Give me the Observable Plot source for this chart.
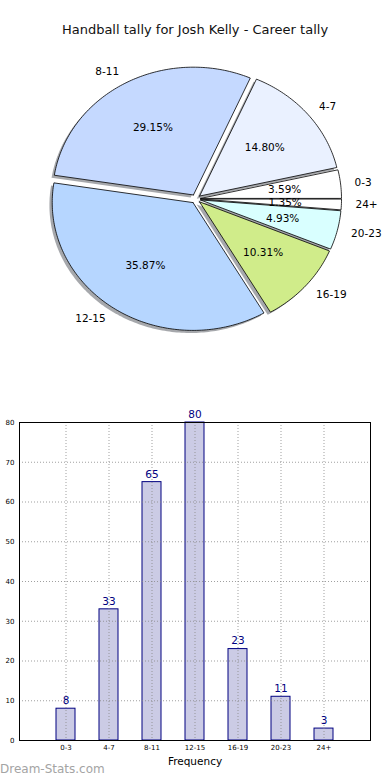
<!DOCTYPE html>
<html>
<head>
<meta charset="utf-8">
<script src="https://cdn.jsdelivr.net/npm/d3@7"></script>
<script src="https://cdn.jsdelivr.net/npm/@observablehq/plot@0.6"></script>
<style>
  html, body { margin: 0; padding: 0; background: #fff; }
  body { width: 390px; height: 780px; position: relative; overflow: hidden; font-family: "DejaVu Sans", sans-serif; }
  #title { height: 50px; box-sizing: border-box; padding-top: 22px; text-align: center; font-size: 13px; line-height: 16px; color: #111; }
  #pie, #bar { display: block; height: 330px; }
  #bar { height: 400px; }
  #wm { position: absolute; left: 0; top: 762px; font-size: 12px; line-height: 14px; color: #a4a4a4; }
</style>
</head>
<body>
<div id="title">Handball tally for Josh Kelly - Career tally</div>
<div id="pie"></div>
<div id="bar"></div>
<div id="wm">Dream-Stats.com</div>
<script>
// ---- data ----
const categories = ["0-3", "4-7", "8-11", "12-15", "16-19", "20-23", "24+"];
const tallies = [8, 33, 65, 80, 23, 11, 3];
const yTicks = [0, 10, 20, 30, 40, 50, 60, 70, 80];
// ---- palette ----
const sliceColors = ["#ffffff", "#eaf1ff", "#c5d9ff", "#b6d6ff", "#d0ec8a", "#d9ffff", "#ffffff"];

const font = "DejaVu Sans";
const total = d3.sum(tallies);
const explode = 0.035;

// build wedge outlines (data units, radius 1)
const wedgePts = [];
const labelPts = [];
let acc = 0;
categories.forEach((c, i) => {
  const a0 = acc / total * 2 * Math.PI;
  acc += tallies[i];
  const a1 = acc / total * 2 * Math.PI;
  const mid = (a0 + a1) / 2;
  const ox = explode * Math.cos(mid), oy = explode * Math.sin(mid);
  wedgePts.push({cat: c, x: ox, y: oy});
  const n = Math.max(4, Math.ceil((a1 - a0) / (Math.PI / 180)));
  for (let k = 0; k <= n; k++) {
    const t = a0 + (a1 - a0) * k / n;
    wedgePts.push({cat: c, x: ox + Math.cos(t), y: oy + Math.sin(t)});
  }
  wedgePts.push({cat: c, x: ox, y: oy});
  labelPts.push({
    cat: c,
    lx: (explode + 1.1) * Math.cos(mid), ly: (explode + 1.1) * Math.sin(mid),
    px: (explode + 0.6) * Math.cos(mid), py: (explode + 0.6) * Math.sin(mid),
    pct: (tallies[i] / total * 100).toFixed(2) + "%"
  });
});

const pie = Plot.plot({
  width: 390, height: 330, margin: 0,
  style: {fontFamily: font, fontSize: "10px", background: "transparent", overflow: "visible"},
  x: {domain: [-1, 1], range: [54.5, 336.1], axis: null},
  y: {domain: [-1, 1], range: [276.2, 20.6], axis: null},
  color: {domain: categories, range: sliceColors},
  marks: [
    Plot.line(wedgePts, {x: "x", y: "y", z: "cat", fill: "#4d5259", fillOpacity: 0.5, stroke: "none", dx: -2.8, dy: 2.6}),
    Plot.line(wedgePts, {x: "x", y: "y", z: "cat", fill: "cat", stroke: "#000", strokeWidth: 0.8, strokeOpacity: 1}),
    Plot.text(labelPts.filter(d => d.lx >= 0), {x: "lx", y: "ly", text: "cat", textAnchor: "start", fontSize: 10.5, fill: "#000"}),
    Plot.text(labelPts.filter(d => d.lx < 0), {x: "lx", y: "ly", text: "cat", textAnchor: "end", fontSize: 10.5, fill: "#000"}),
    Plot.text(labelPts, {x: "px", y: "py", text: "pct", fontSize: 10.5, fill: "#000"})
  ]
});
document.getElementById("pie").appendChild(pie);

const bars = categories.map((c, i) => ({cat: c, v: tallies[i]}));
const bar = Plot.plot({
  width: 390, height: 400,
  marginTop: 42, marginBottom: 40, marginLeft: 19, marginRight: 20,
  style: {fontFamily: font, background: "transparent", overflow: "visible"},
  x: {type: "band", domain: categories, paddingInner: 0.55, paddingOuter: 0.775, align: 0.5, label: null},
  y: {domain: [0, 80], label: null},
  marks: [
    Plot.barY(bars, {x: "cat", y: "v", fill: "#cbcbe5", stroke: "#000080", strokeWidth: 1, insetLeft: 0, insetRight: 0}),
    Plot.gridX({stroke: "#888", strokeOpacity: 0.8, strokeDasharray: "1,2"}),
    Plot.gridY(yTicks, {stroke: "#888", strokeOpacity: 0.8, strokeDasharray: "1,2"}),
    Plot.frame({stroke: "#000", strokeWidth: 1}),
    Plot.axisY(yTicks, {tickSize: 0, tickPadding: 5, fontSize: 7, label: null}),
    Plot.axisX({tickSize: 0, tickPadding: 5, fontSize: 7, label: null}),
    Plot.text(["Frequency"], {frameAnchor: "bottom", dy: 24, fontSize: 10.5, fill: "#000"}),
    Plot.text(bars, {x: "cat", y: "v", text: "v", dy: -8, fontSize: 10.5, fill: "#000080"})
  ]
});
document.getElementById("bar").appendChild(bar);
</script>
</body>
</html>
